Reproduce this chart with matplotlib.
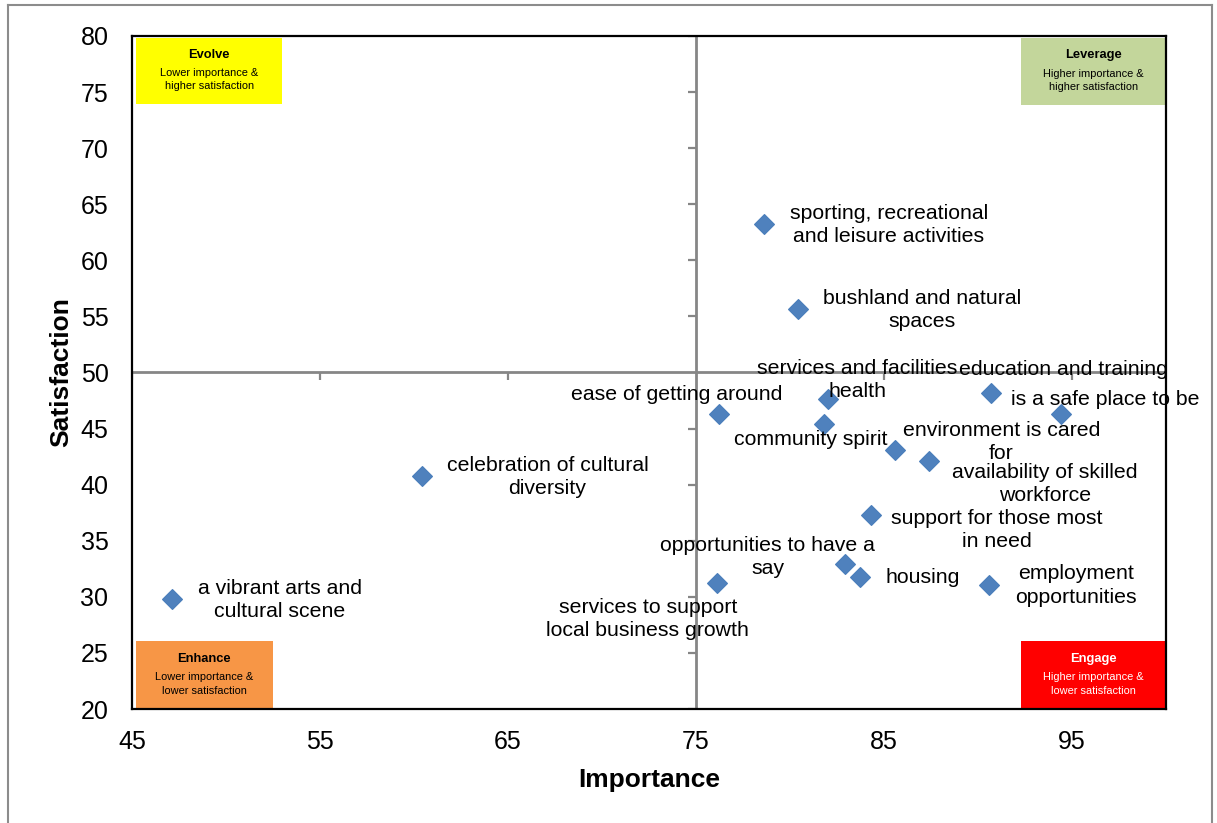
import matplotlib
matplotlib.use("Agg")
import matplotlib.pyplot as plt
from matplotlib import font_manager
from matplotlib.patches import Rectangle
from matplotlib.lines import Line2D

# ---- data -------------------------------------------------------------
labels = [
    "sporting, recreational\nand leisure activities",
    "bushland and natural\nspaces",
    "services and facilities\nhealth",
    "education and training",
    "is a safe place to be",
    "ease of getting around",
    "community spirit",
    "environment is cared\nfor",
    "availability of skilled\nworkforce",
    "celebration of cultural\ndiversity",
    "support for those most\nin need",
    "opportunities to have a\nsay",
    "housing",
    "employment\nopportunities",
    "services to support\nlocal business growth",
    "a vibrant arts and\ncultural scene",
]
importance = [78.6, 80.4, 82.0, 90.7, 94.4, 76.2, 81.8, 85.6,
              87.4, 60.4, 84.3, 82.9, 83.7, 90.6, 76.1, 47.1]
satisfaction = [63.2, 55.7, 47.6, 48.2, 46.3, 46.3, 45.4, 43.1,
                42.1, 40.8, 37.3, 32.9, 31.8, 31.1, 31.2, 29.8]

x_ticks = [45, 55, 65, 75, 85, 95]
y_ticks = [20, 25, 30, 35, 40, 45, 50, 55, 60, 65, 70, 75, 80]
x_mid, y_mid = 75, 50

# label centre offsets from each marker, in pixels (x right, y up)
label_offsets = [
    (125, -1), (125, -1), (30, 19), (72, 23), (45, 14), (-42, 19),
    (-13, -15), (106, 8), (116, -23), (126, -1), (126, -15), (-77, 7),
    (63, -1), (87, -1), (-69, -36), (108, -1),
]

# ---- fonts -------------------------------------------------------------
installed = {f.name for f in font_manager.fontManager.ttflist}
has_narrow = "Liberation Sans Narrow" in installed
narrow = "Liberation Sans Narrow" if has_narrow else "Liberation Sans"
plt.rcParams["font.family"] = ["Liberation Sans", "DejaVu Sans"]

title_size = 23 if has_narrow else 19
box_title_size = 10.5 if has_narrow else 9.3
box_text_size = 9 if has_narrow else 7.9

# ---- figure ------------------------------------------------------------
fig = plt.figure(figsize=(12.17, 8.23), dpi=100)
ax = fig.add_axes([0.1085, 0.1385, 0.8496, 0.8178])

ax.set_xlim(45, 100)
ax.set_ylim(20, 80)
ax.set_xticks(x_ticks)
ax.set_yticks(y_ticks)
ax.tick_params(axis="both", length=0, labelsize=18)
ax.tick_params(axis="x", pad=15)
ax.tick_params(axis="y", pad=17)
for sp in ax.spines.values():
    sp.set_color("black")
    sp.set_linewidth(1.6)

ax.set_xlabel("Importance", fontsize=title_size, fontweight="bold",
              family=narrow, labelpad=10)
ax.set_ylabel("Satisfaction", fontsize=title_size, fontweight="bold",
              family=narrow, labelpad=5)

# quadrant dividers with their own small tick marks
grey = "#868686"
ax.axvline(x_mid, color=grey, lw=2, zorder=1)
ax.axhline(y_mid, color=grey, lw=2, zorder=1)
ax.plot([v for v in x_ticks if v != x_mid], [y_mid] * (len(x_ticks) - 1),
        linestyle="none", marker=3, ms=6, mew=1.6, color=grey, zorder=1)
ax.plot([x_mid] * (len(y_ticks) - 1), [v for v in y_ticks if v != y_mid],
        linestyle="none", marker=0, ms=6, mew=1.6, color=grey, zorder=1)

# quadrant tags
quadrants = [
    # (x0, x1, y0, y1, colour, title, subtitle, text colour)
    (0.004, 0.145, 0.899, 0.997, "#FFFF00", "Evolve",
     "Lower importance &\nhigher satisfaction", "black"),
    (0.860, 1.000, 0.897, 0.997, "#C3D69B", "Leverage",
     "Higher importance &\nhigher satisfaction", "black"),
    (0.004, 0.136, 0.000, 0.101, "#F79646", "Enhance",
     "Lower importance &\nlower satisfaction", "black"),
    (0.860, 1.000, 0.000, 0.101, "#FF0000", "Engage",
     "Higher importance &\nlower satisfaction", "white"),
]
for x0, x1, y0, y1, col, ttl, sub, tc in quadrants:
    ax.add_patch(Rectangle((x0, y0), x1 - x0, y1 - y0, transform=ax.transAxes,
                           facecolor=col, edgecolor="none", zorder=2))
    cx = (x0 + x1) / 2
    h = y1 - y0
    ax.text(cx, y1 - 0.26 * h, ttl, transform=ax.transAxes, ha="center",
            va="center", fontsize=box_title_size, fontweight="bold",
            family=narrow, color=tc, zorder=3)
    ax.text(cx, y1 - 0.63 * h, sub, transform=ax.transAxes, ha="center",
            va="center", fontsize=box_text_size, family=narrow, color=tc,
            linespacing=1.45, zorder=3)

# points and their labels
ax.plot(importance, satisfaction, linestyle="none", marker="D", ms=10,
        color="#4F81BD", mec="#4A7EBB", mew=0.8, zorder=4)
for name, xv, yv, (dx, dy) in zip(labels, importance, satisfaction,
                                  label_offsets):
    ax.annotate(name, (xv, yv), xytext=(dx, dy), textcoords="offset pixels",
                ha="center", va="center", multialignment="center",
                fontsize=15.3, linespacing=1.27, color="black", zorder=5)

# thin grey frame around the whole chart area
frame = dict(color="#8C8C8C", lw=1.5, transform=fig.transFigure)
fig.add_artist(Line2D([0.0066, 0.0066], [0.0, 0.9945], **frame))
fig.add_artist(Line2D([0.0066, 0.9963], [0.9945, 0.9945], **frame))
fig.add_artist(Line2D([0.9963, 0.9963], [0.0, 0.9945], **frame))

fig.savefig("out.png", dpi=100)
